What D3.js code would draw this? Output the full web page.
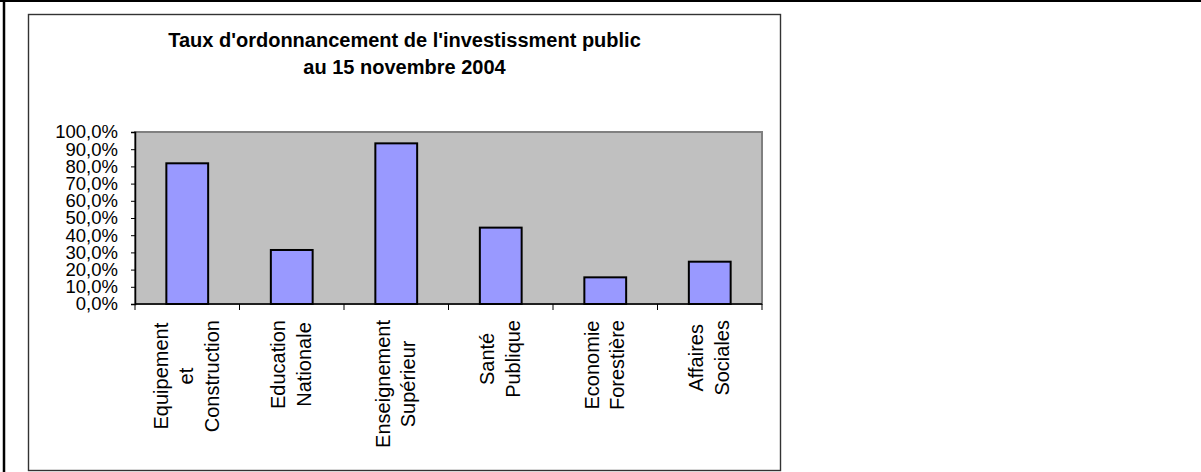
<!DOCTYPE html>
<html>
<head>
<meta charset="utf-8">
<script src="https://cdn.jsdelivr.net/npm/d3@7"></script>
<style>
    body { margin: 0; background: #fff; }
    text { font-family: Arial, "Liberation Sans", sans-serif; }
</style>
</head>
<body>
<div id="visualization"></div>
<script>
// chart data
const categories = [
    ["Equipement", "et", "Construction"],
    ["Education", "Nationale"],
    ["Enseignement", "Supérieur"],
    ["Santé", "Publique"],
    ["Economie", "Forestière"],
    ["Affaires", "Sociales"]
];
const rates = [81.8, 31.4, 93.4, 44.4, 15.5, 24.6];
const yTicks = [0, 10, 20, 30, 40, 50, 60, 70, 80, 90, 100];
const titleLines = ["Taux d'ordonnancement de l'investissment public", "au 15 novembre 2004"];

function main(){
    let width = 1201;
    let height = 472;

    let svg = d3.select(document.getElementById('visualization'))
        .append('svg')
        .attr('width', width)
        .attr('height', height);

    // sheet borders (top and left)
    svg.append("line").attr("x1", 0).attr("x2", width).attr("y1", 1).attr("y2", 1)
        .attr("stroke", "#000").attr("stroke-width", 2);
    svg.append("line").attr("x1", 4).attr("x2", 4).attr("y1", 0).attr("y2", height)
        .attr("stroke", "#000").attr("stroke-width", 2.5);

    // chart frame
    svg.append("rect")
        .attr("x", 28.5).attr("y", 14.5)
        .attr("width", 752).attr("height", 456)
        .attr("fill", "#fff")
        .attr("stroke", "#333").attr("stroke-width", 1.4);

    // title
    svg.selectAll(".title")
        .data(titleLines)
        .enter()
        .append("text")
            .attr("class", "title")
            .attr("x", 404.5)
            .attr("y", (d, i) => 47 + i * 27)
            .attr("text-anchor", "middle")
            .attr("font-size", "20px")
            .attr("font-weight", "bold")
            .text(d => d);

    let plot = {left: 135, right: 762, top: 132, bottom: 304};

    let x = d3.scaleBand()
        .domain(d3.range(categories.length))
        .range([plot.left, plot.right])
        .paddingInner(0.6)
        .paddingOuter(0.3);

    let y = d3.scaleLinear()
        .domain([0, 100])
        .range([plot.bottom, plot.top]);

    // grey plot area
    svg.append("rect")
        .attr("x", plot.left).attr("y", plot.top)
        .attr("width", plot.right - plot.left)
        .attr("height", plot.bottom - plot.top)
        .attr("fill", "#c0c0c0")
        .attr("stroke", "#808080").attr("stroke-width", 2);

    // bars
    svg.selectAll(".bar")
        .data(rates)
        .enter()
        .append("rect")
            .attr("class", "bar")
            .attr("x", (d, i) => x(i))
            .attr("y", d => y(d))
            .attr("width", x.bandwidth())
            .attr("height", d => y(0) - y(d))
            .attr("fill", "#9999ff")
            .attr("stroke", "#000")
            .attr("stroke-width", 2);

    // y axis with french number format
    let fr = d3.formatLocale({decimal: ",", thousands: " ", grouping: [3], currency: ["", " €"]});
    let fmt = fr.format(".1f");

    let yAxis = svg.append("g")
        .attr("transform", `translate(${plot.left},0)`)
        .call(d3.axisLeft(y).tickValues(yTicks).tickSize(4).tickPadding(13)
            .tickFormat(d => fmt(d) + "%"));
    yAxis.select(".domain").attr("stroke", "#000").attr("stroke-width", 1.5);
    yAxis.selectAll(".tick line").attr("stroke", "#000");
    yAxis.selectAll(".tick text")
        .attr("font-size", "18.5px")
        .attr("font-family", "Arial, 'Liberation Sans', sans-serif")
        .attr("fill", "#000");

    // x axis line and ticks between categories
    let step = x.step();
    let boundaries = d3.range(categories.length + 1).map(i => plot.left + i * step);

    svg.append("line")
        .attr("x1", plot.left).attr("x2", plot.right)
        .attr("y1", y(0)).attr("y2", y(0))
        .attr("stroke", "#000").attr("stroke-width", 1.5);

    svg.selectAll(".xtick")
        .data(boundaries)
        .enter()
        .append("line")
            .attr("class", "xtick")
            .attr("x1", d => d).attr("x2", d => d)
            .attr("y1", y(0)).attr("y2", y(0) + 6)
            .attr("stroke", "#000");

    // rotated category labels, lines centred on each other, block starting under the axis
    let lineGap = 25.5;
    let labelTop = 320;
    categories.forEach((lines, i) => {
        let cx = x(i) + x.bandwidth() / 2;
        let g = svg.append("g");
        let texts = g.selectAll("text")
            .data(lines)
            .enter()
            .append("text")
                .attr("font-size", "20px")
                .attr("text-anchor", "middle")
                .attr("fill", "#000")
                .text(d => d);

        let maxLen = d3.max(texts.nodes(), n => n.getComputedTextLength());
        let cy = labelTop + maxLen / 2;
        texts
            .attr("transform", `translate(${cx},${cy}) rotate(-90)`)
            .attr("x", 0)
            .attr("y", (d, j) => (j - (lines.length - 1) / 2) * lineGap + 6);
    });
}

window.onload = () => {
    main();
}
</script>
</body>
</html>
